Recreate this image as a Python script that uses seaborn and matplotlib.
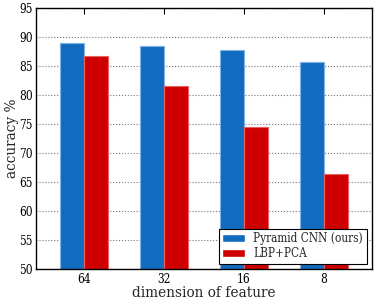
import matplotlib
matplotlib.use("Agg")
import matplotlib.pyplot as plt
import seaborn as sns
import pandas as pd

dims = ["64", "32", "16", "8"]
pyramid_cnn = [88.9, 88.5, 87.7, 85.7]
lbp_pca = [86.7, 81.5, 74.5, 66.3]
series_names = ["Pyramid CNN (ours)", "LBP+PCA"]
colors = ["#116cc0", "#cc0000"]

df = pd.DataFrame({
    "dim": dims * 2,
    "acc": pyramid_cnn + lbp_pca,
    "method": [series_names[0]] * 4 + [series_names[1]] * 4,
})

sns.set_style("white")
plt.rcParams["font.family"] = ["DejaVu Serif"]
plt.rcParams["font.stretch"] = "condensed"

fig = plt.figure(figsize=(3.77, 3.0), dpi=100)
ax = fig.add_axes([36 / 377, 1 - 269 / 300, 336 / 377, 261 / 300])
sns.barplot(data=df, x="dim", y="acc", hue="method", order=dims,
            hue_order=series_names, palette=colors, width=0.6,
            ax=ax, saturation=1)
for container, ec in zip(ax.containers, ["#7fb2e5", "#e86060"]):
    for b in container:
        b.set_edgecolor(ec)
        b.set_linewidth(0.8)

ax.set_ylim(50, 95)
ax.set_xlim(-0.6, 3.6)
ax.set_yticks(range(50, 96, 5))
ax.yaxis.grid(True, linestyle=":", color="#777777", linewidth=0.8)
ax.set_axisbelow(True)
ax.tick_params(axis="both", labelsize=8.5, direction="in", length=4, width=0.8,
               top=True, right=False, colors="black")
ax.tick_params(axis="x", pad=3)
ax.tick_params(axis="y", length=3, pad=2.5)
for s in ax.spines.values():
    s.set_visible(True)
    s.set_color("black")
    s.set_linewidth(1)
ax.set_xlabel("dimension of feature", fontsize=11, labelpad=0)
ax.set_ylabel("accuracy %", fontsize=11, labelpad=0)

leg = ax.legend(loc="lower right", fontsize=8.5, frameon=True, fancybox=False,
                edgecolor="black", framealpha=1, borderaxespad=0.45,
                handlelength=1.9, handleheight=0.6, borderpad=0.3,
                labelspacing=0.15, handletextpad=0.75)
leg.get_frame().set_linewidth(0.8)

fig.savefig("out.png", dpi=100)
